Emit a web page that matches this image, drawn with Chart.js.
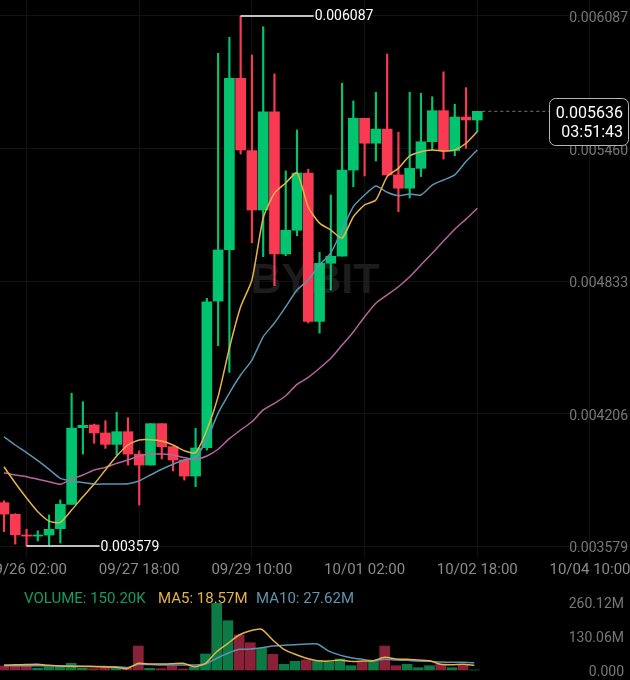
<!DOCTYPE html>
<html>
<head>
<meta charset="utf-8">
<title>Candles</title>
<script src="https://cdn.jsdelivr.net/npm/chart.js@4"></script>
<style>
    html, body { margin: 0; background: #000; }
    #wrap { position: relative; width: 630px; height: 680px; overflow: hidden; background: #000; }
    canvas { position: absolute; left: 0; }
    #priceChart { top: 0; }
    #volumeChart { top: 580px; }
</style>
</head>
<body>
<div id="wrap">
    <canvas id="priceChart" width="630" height="585"></canvas>
    <canvas id="volumeChart" width="630" height="100"></canvas>
</div>
<script>
// ---------------- DATA ----------------
const opens = [0.003784,0.003729,0.003631,0.003626,0.003631,0.003661,0.003776,0.004139,0.004152,0.004114,0.004060,0.004120,0.004014,0.003962,0.004158,0.004049,0.003986,0.003910,0.004044,0.004738,0.004981,0.005792,0.005450,0.005169,0.005633,0.004961,0.005073,0.005344,0.004642,0.004917,0.004951,0.005358,0.005603,0.005485,0.005552,0.005335,0.005272,0.005366,0.005492,0.005639,0.005450,0.005609,0.005595];
const closes = [0.003730,0.003632,0.003626,0.003631,0.003658,0.003776,0.004137,0.004150,0.004114,0.004060,0.004120,0.004014,0.003962,0.004158,0.004049,0.003986,0.003910,0.004043,0.004735,0.004980,0.005792,0.005453,0.005169,0.005633,0.004961,0.005073,0.005344,0.004642,0.004917,0.004950,0.005358,0.005603,0.005485,0.005552,0.005335,0.005272,0.005366,0.005492,0.005639,0.005450,0.005609,0.005595,0.005636];
const highs = [0.003793,0.003732,0.003659,0.003651,0.003726,0.003797,0.004302,0.004262,0.004156,0.004172,0.004212,0.004186,0.004029,0.004158,0.004158,0.004049,0.003986,0.004136,0.004751,0.005910,0.005986,0.006087,0.005902,0.006036,0.005813,0.005354,0.005548,0.005362,0.004969,0.005240,0.005769,0.005685,0.005603,0.005726,0.005907,0.005537,0.005726,0.005721,0.005705,0.005823,0.005669,0.005748,0.005636];
const lows = [0.003647,0.003588,0.003579,0.003603,0.003584,0.003593,0.003776,0.004014,0.004065,0.004041,0.004010,0.003962,0.003773,0.003962,0.003991,0.003934,0.003891,0.003860,0.004033,0.004527,0.004401,0.005434,0.005014,0.004948,0.004811,0.004953,0.005047,0.004634,0.004586,0.004790,0.004951,0.005279,0.005330,0.005401,0.005335,0.005161,0.005226,0.005327,0.005453,0.005410,0.005426,0.005461,0.005540];

const maYellow = [0.003954,0.003877,0.003806,0.003741,0.003697,0.003691,0.003749,0.003812,0.003872,0.003939,0.004005,0.004057,0.004081,0.004082,0.004076,0.004057,0.004030,0.004021,0.004128,0.004286,0.004515,0.004711,0.004838,0.005131,0.005249,0.005297,0.005345,0.005182,0.005107,0.005074,0.005036,0.005137,0.005193,0.005216,0.005327,0.005366,0.005425,0.005445,0.005453,0.005448,0.005453,0.005485,0.005540];
const maBlue = [0.004096,0.004057,0.004021,0.003983,0.003942,0.003899,0.003887,0.003879,0.003872,0.003872,0.003872,0.003874,0.003887,0.003915,0.003942,0.003966,0.003986,0.003999,0.004081,0.004208,0.004303,0.004388,0.004459,0.004569,0.004634,0.004711,0.004790,0.004838,0.004909,0.004966,0.005074,0.005185,0.005240,0.005283,0.005253,0.005237,0.005245,0.005240,0.005287,0.005311,0.005335,0.005398,0.005453];
const maPink = [0.003926,0.003915,0.003907,0.003895,0.003883,0.003871,0.003895,0.003915,0.003939,0.003951,0.003970,0.003986,0.004005,0.004014,0.004014,0.004010,0.003997,0.003989,0.004005,0.004037,0.004087,0.004128,0.004167,0.004223,0.004254,0.004290,0.004344,0.004377,0.004420,0.004467,0.004530,0.004592,0.004664,0.004728,0.004767,0.004806,0.004853,0.004909,0.004964,0.005022,0.005078,0.005126,0.005177];

// volume in millions
const volumes = [15.3,15.3,15.3,6.5,12.6,12.6,25.6,6.5,5,8.8,7.7,6.5,91.8,6.5,5,15.3,3.8,12.6,61.2,255,188.6,133.9,104.4,83,60,21.8,33.3,38.3,35.6,31.8,42.1,16.4,31.8,35.6,91.8,16.4,21.8,8.8,16.4,21.8,8.8,21.8,0.15];
const volMa5 = [19,20,21,22,18,15,14,13,13,11.5,10.7,5,25.6,23,23,24,26,12.6,25.6,70,102,134,150,156,115,79,60,45,35.6,34,38,33,34,35.6,48.6,42,41,38,35.6,21.8,20.3,21.8,18.57];
const volMa10 = [16,16,16,16,16,16,15.3,14.5,13.8,13,12.2,9.6,21.8,21,19,19,19,19,23,45,64,79,80,85,92,94.5,97,99.5,99.5,72,57,47,41,35.6,41,38,37,34.4,33.3,30.6,29.5,29.5,27.62];

const xTickSlots = [2, 12, 22, 32, 42, 52];
const xTickLabels = ["09/26 02:00", "09/27 18:00", "09/29 10:00", "10/01 02:00", "10/02 18:00", "10/04 10:00"];
const priceTicks = [0.006087, 0.005460, 0.004833, 0.004206, 0.003579];
const volumeTicks = [260.12, 130.06, 0];
const volumeTickLabels = ["260.12M", "130.06M", "0.000"];

const highPrice = 0.006087, highSlot = 21;
const lowPrice = 0.003579, lowSlot = 2;
const lastPrice = 0.005636, lastSlot = 42;
const countdown = "03:51:43";

// ---------------- COLOURS ----------------
const UP = "#03C46E", DOWN = "#FA3A52";
const UP_DARK = "#0C7A45", DOWN_DARK = "#8B2138";
const YELLOW = "#E6B24C", BLUE = "#5F93AE", PINK = "#B5659F";
const GRID = "#121212";
const FONT = "Roboto, sans-serif";

const slots = opens.map((_, i) => i);
const isUp = slots.map(i => closes[i] >= opens[i]);
const xMin = -0.355, xMax = 55.55;

function lineSet(values, color, width) {
    return {
        type: "line", data: slots.map(i => ({ x: i, y: values[i] })),
        borderColor: color, borderWidth: width, pointRadius: 0, tension: 0.2, order: 0
    };
}

function barSet(values, colors, thickness, order) {
    return {
        type: "bar", data: slots.map(i => ({ x: i, y: values[i] })),
        backgroundColor: colors, barThickness: thickness, grouped: false, order: order
    };
}

// the mirrored y labels must not push the chart area in
function noPadding(s) {
    s.paddingTop = 0;
    s.paddingBottom = 0;
}

// ---------------- PRICE CHART PLUGINS ----------------
const watermark = {
    id: "watermark",
    beforeDatasetsDraw(chart) {
        const c = chart.ctx;
        c.save();
        c.fillStyle = "#1c1c1c";
        c.font = "bold 43px 'Liberation Sans'";
        c.textAlign = "center";
        c.textBaseline = "alphabetic";
        c.fillText("BYBIT", 315, 293);
        c.restore();
    }
};

function extreme(c, chart, slot, price) {
    const x = chart.scales.x.getPixelForValue(slot);
    const y = chart.scales.y.getPixelForValue(price);
    c.strokeStyle = "#fff";
    c.lineWidth = 1.5;
    c.beginPath();
    c.moveTo(x, y);
    c.lineTo(x + 73, y);
    c.stroke();
    c.fillStyle = "#fff";
    c.font = "14px " + FONT;
    c.textAlign = "left";
    c.textBaseline = "middle";
    c.fillText(price.toFixed(6), x + 74, y + 1);
}

const annotations = {
    id: "annotations",
    afterDraw(chart) {
        const c = chart.ctx;
        c.save();
        extreme(c, chart, highSlot, highPrice);
        extreme(c, chart, lowSlot, lowPrice);

        // current price dashes and box
        const y = chart.scales.y.getPixelForValue(lastPrice);
        c.strokeStyle = "#777";
        c.lineWidth = 1;
        c.setLineDash([3, 3]);
        c.beginPath();
        c.moveTo(chart.scales.x.getPixelForValue(lastSlot) + 5, y);
        c.lineTo(549, y);
        c.stroke();
        c.setLineDash([]);

        c.fillStyle = "#000";
        c.strokeStyle = "#b5b5b5";
        c.beginPath();
        c.roundRect(549.5, 98.5, 79, 47, 6);
        c.fill();
        c.stroke();

        c.fillStyle = "#fff";
        c.font = "16px " + FONT;
        c.textAlign = "right";
        c.textBaseline = "middle";
        c.fillText(lastPrice.toFixed(6), 623, 114);
        c.fillText(countdown, 623, 133);
        c.restore();
    }
};

// ---------------- PRICE CHART ----------------
new Chart(document.getElementById("priceChart"), {
    type: "bar",
    data: {
        datasets: [
            lineSet(maYellow, YELLOW, 1.5),
            lineSet(maBlue, BLUE, 1.5),
            lineSet(maPink, PINK, 1.5),
            barSet(slots.map(i => [opens[i], closes[i]]), isUp.map(u => u ? UP : DOWN), 10, 1),
            barSet(slots.map(i => [lows[i], highs[i]]), isUp.map(u => u ? UP : DOWN), 1.5, 2)
        ]
    },
    options: {
        responsive: false,
        animation: false,
        layout: { padding: 0 },
        plugins: { legend: { display: false }, tooltip: { enabled: false } },
        scales: {
            x: {
                type: "linear", min: xMin, max: xMax, offset: false,
                grid: { color: GRID, drawTicks: false, offset: false },
                border: { display: false },
                afterBuildTicks: s => { s.ticks = xTickSlots.map(v => ({ value: v })); },
                afterFit: s => { s.paddingLeft = 0; s.paddingRight = 0; s.height = 28; },
                ticks: {
                    autoSkip: false, maxRotation: 0, padding: 4,
                    color: "#8a8a8a", font: { family: FONT, size: 15 },
                    callback: (v, i) => xTickLabels[i]
                }
            },
            y: {
                position: "right", min: 0.003527, max: 0.0061627,
                grid: { color: GRID, drawTicks: false },
                border: { display: false },
                afterBuildTicks: s => { s.ticks = priceTicks.map(v => ({ value: v })); },
                afterFit: noPadding,
                ticks: {
                    mirror: true, padding: -2, labelOffset: 2.5,
                    color: "#777", font: { family: FONT, size: 14 },
                    callback: v => v.toFixed(6)
                }
            }
        }
    },
    plugins: [watermark, annotations]
});

// ---------------- VOLUME CHART ----------------
const volumeLegend = {
    id: "volumeLegend",
    afterDatasetsDraw(chart) {
        const c = chart.ctx;
        c.save();
        c.font = "15px " + FONT;
        c.textAlign = "left";
        c.textBaseline = "middle";
        c.fillStyle = "#189A63";
        c.fillText("VOLUME: 150.20K", 24, 19);
        c.fillStyle = YELLOW;
        c.fillText("MA5: 18.57M", 158, 19);
        c.fillStyle = BLUE;
        c.fillText("MA10: 27.62M", 256, 19);
        c.restore();
    }
};

new Chart(document.getElementById("volumeChart"), {
    type: "bar",
    data: {
        datasets: [
            lineSet(volMa5, YELLOW, 1.5),
            lineSet(volMa10, BLUE, 1.5),
            barSet(volumes, isUp.map(u => u ? UP_DARK : DOWN_DARK), 10, 1)
        ]
    },
    options: {
        responsive: false,
        animation: false,
        layout: { padding: 0 },
        plugins: { legend: { display: false }, tooltip: { enabled: false } },
        scales: {
            x: { type: "linear", min: xMin, max: xMax, offset: false, display: false },
            y: {
                position: "right", min: -38.25, max: 344.3,
                grid: { display: false },
                border: { display: false },
                afterBuildTicks: s => { s.ticks = volumeTicks.map(v => ({ value: v })); },
                afterFit: noPadding,
                ticks: {
                    mirror: true, padding: -2, labelOffset: 2.5,
                    color: "#777", font: { family: FONT, size: 14 },
                    callback: (v, i) => volumeTickLabels[i]
                }
            }
        }
    },
    plugins: [volumeLegend]
});
</script>
</body>
</html>
